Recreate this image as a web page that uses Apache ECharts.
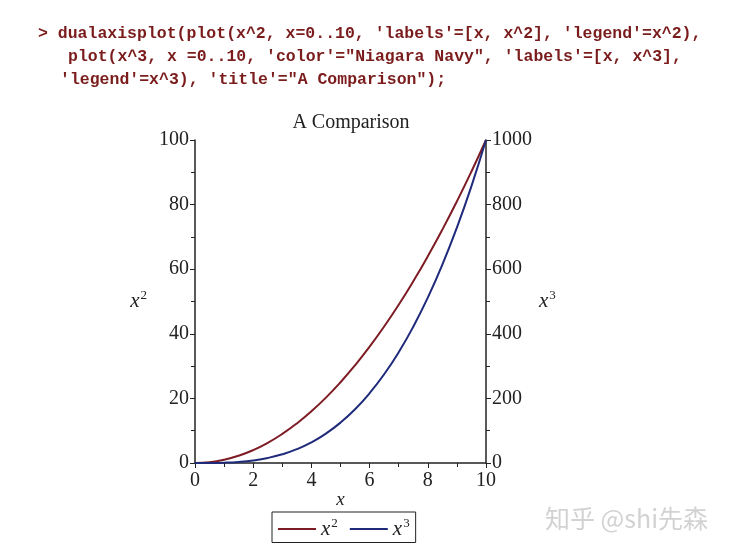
<!DOCTYPE html>
<html><head><meta charset="utf-8">
<script src="https://cdn.jsdelivr.net/npm/echarts@6/dist/echarts.min.js"></script>
<style>html,body{margin:0;padding:0;background:#fff}#c{width:736px;height:555px}</style>
</head><body><div id="c"></div>
<script>
const xValues = [0,0.5,1,1.5,2,2.5,3,3.5,4,4.5,5,5.5,6,6.5,7,7.5,8,8.5,9,9.5,10];
const squareValues = [0,0.25,1,2.25,4,6.25,9,12.25,16,20.25,25,30.25,36,42.25,49,56.25,64,72.25,81,90.25,100];
const cubeValues = [0,0.125,1,3.375,8,15.625,27,42.875,64,91.125,125,166.375,216,274.625,343,421.875,512,614.125,729,857.375,1000];
const xTicks = [0,2,4,6,8,10];
const leftTicks = [0,20,40,60,80,100];
const rightTicks = [0,200,400,600,800,1000];
const codeLines = [
  "> dualaxisplot(plot(x^2, x=0..10, 'labels'=[x, x^2], 'legend'=x^2),",
  "plot(x^3, x =0..10, 'color'=\"Niagara Navy\", 'labels'=[x, x^3],",
  "'legend'=x^3), 'title'=\"A Comparison\");"
];
const titleText = 'A Comparison';
const watermark = '知乎 @shi先森';

const red = '#7d1c24', navy = '#1f2a7a';
const serif = "'Liberation Serif', 'DejaVu Serif', serif";
const rich = {
  i: {fontFamily: serif, fontStyle: 'italic', fontSize: 21, color: '#222'},
  s: {fontFamily: serif, fontSize: 13, color: '#222', verticalAlign: 'top', padding: [0,0,11,1]}
};
const chart = echarts.init(document.getElementById('c'));
const axisLine = {lineStyle: {color: '#222', width: 1.5}};
const labelStyle = {fontFamily: serif, fontSize: 20, color: '#222'};
chart.setOption({
  animation: false,
  backgroundColor: '#fff',
  title: {text: titleText, left: 346, top: 108, textAlign: 'center',
    textStyle: {fontFamily: serif, fontSize: 20, fontWeight: 'normal', color: '#222'}},
  grid: {left: 195, right: 250, top: 140, bottom: 92},
  legend: {
    left: 272, top: 512, width: 141,
    data: [{name: 'x2', icon: 'rect'}, {name: 'x3', icon: 'rect'}],
    itemWidth: 38, itemHeight: 2, itemGap: 12,
    borderColor: '#222', borderWidth: 1, padding: [5, 6, 3, 6],
    formatter: n => n === 'x2' ? '{i|x}{s|2}' : '{i|x}{s|3}',
    textStyle: {rich: rich, padding: [0,0,0,0]}
  },
  xAxis: [{
    type: 'value', min: 0, max: 10, interval: 2,
    name: 'x', nameLocation: 'middle', nameGap: 27, nameMoveOverlap: false,
    nameTextStyle: {fontFamily: serif, fontStyle: 'italic', fontSize: 19, color: '#222'},
    axisLine: axisLine,
    axisTick: {show: true, length: 5, lineStyle: {color: '#222'}},
    minorTick: {show: true, splitNumber: 2, length: 4, lineStyle: {color: '#222'}},
    splitLine: {show: false},
    axisLabel: Object.assign({margin: 8, formatter: v => xTicks.includes(v) ? String(v) : ''}, labelStyle)
  }],
  yAxis: [{
    type: 'value', min: 0, max: 100, interval: 20, position: 'left',
    name: '{i|x}{s|2}', nameLocation: 'middle', nameGap: 48, nameRotate: 0,
    nameTextStyle: {rich: rich},
    axisLine: Object.assign({show: true}, axisLine),
    axisTick: {show: true, length: 5, lineStyle: {color: '#222'}},
    minorTick: {show: true, splitNumber: 2, length: 4, lineStyle: {color: '#222'}},
    splitLine: {show: false},
    axisLabel: Object.assign({margin: 6, formatter: v => leftTicks.includes(v) ? String(v) : ''}, labelStyle)
  }, {
    type: 'value', min: 0, max: 1000, interval: 200, position: 'right',
    name: '{i|x}{s|3}', nameLocation: 'middle', nameGap: 53, nameRotate: 0,
    nameTextStyle: {rich: rich},
    axisLine: Object.assign({show: true}, axisLine),
    axisTick: {show: true, length: 5, lineStyle: {color: '#222'}},
    minorTick: {show: true, splitNumber: 2, length: 4, lineStyle: {color: '#222'}},
    splitLine: {show: false},
    axisLabel: Object.assign({margin: 6, formatter: v => rightTicks.includes(v) ? String(v) : ''}, labelStyle)
  }],
  series: [{
    name: 'x2', type: 'line', yAxisIndex: 0, smooth: true, showSymbol: false,
    data: xValues.map((x, i) => [x, squareValues[i]]),
    lineStyle: {color: red, width: 2}, itemStyle: {color: red}
  }, {
    name: 'x3', type: 'line', yAxisIndex: 1, smooth: true, showSymbol: false,
    data: xValues.map((x, i) => [x, cubeValues[i]]),
    lineStyle: {color: navy, width: 2}, itemStyle: {color: navy}
  }],
  graphic: [
    {type: 'text', left: 38, top: 25, style: {text: codeLines[0], font: "bold 16.5px 'Liberation Mono', monospace", fill: '#7a1c1c'}},
    {type: 'text', left: 68, top: 48, style: {text: codeLines[1], font: "bold 16.5px 'Liberation Mono', monospace", fill: '#7a1c1c'}},
    {type: 'text', left: 60, top: 71, style: {text: codeLines[2], font: "bold 16.5px 'Liberation Mono', monospace", fill: '#7a1c1c'}},
    {type: 'text', left: 545, top: 506, style: {text: watermark, font: "25px 'Noto Sans CJK SC', sans-serif", fill: '#d2d2d2'}}
  ]
});
</script></body></html>
